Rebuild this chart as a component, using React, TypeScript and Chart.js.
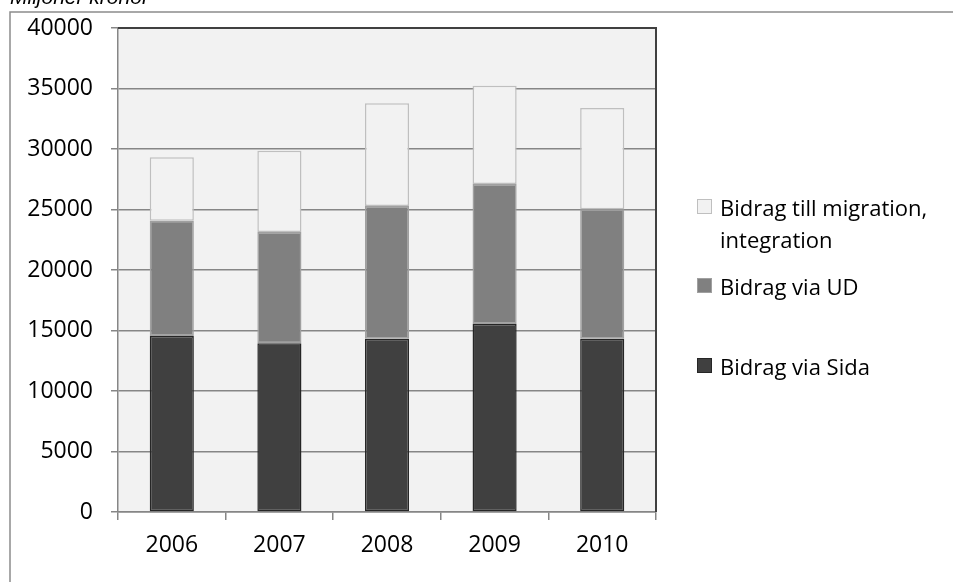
import React, { useEffect, useRef } from "react";
import { Chart, registerables } from "chart.js";

Chart.register(...registerables);

const categories = ["2006", "2007", "2008", "2009", "2010"];
const sida = [14550, 13940, 14320, 15540, 14320];
const ud = [9520, 9200, 10970, 11570, 10700];
const migration = [5240, 6720, 8490, 8120, 8370];
const yTicks = [0, 5000, 10000, 15000, 20000, 25000, 30000, 35000, 40000];

const labelSida = "Bidrag via Sida";
const labelUd = "Bidrag via UD";
const labelMigration = ["Bidrag till migration,", "integration"];
const titleText = "Miljoner kronor";

const FONT = "'Open Sans', sans-serif";

const frame = {
  id: "frame",
  beforeDraw(chart: any) {
    const { ctx, chartArea } = chart;
    ctx.save();
    ctx.fillStyle = "#f2f2f2";
    ctx.fillRect(chartArea.left, chartArea.top, chartArea.right - chartArea.left, chartArea.bottom - chartArea.top);
    ctx.strokeStyle = "#8c8c8c";
    ctx.lineWidth = 1.5;
    ctx.beginPath();
    ctx.moveTo(10, 600);
    ctx.lineTo(10, 12);
    ctx.lineTo(960, 12);
    ctx.stroke();
    ctx.restore();
  },
  afterDatasetsDraw(chart: any) {
    const { ctx, chartArea } = chart;
    ctx.save();
    ctx.strokeStyle = "#404040";
    ctx.lineWidth = 2;
    ctx.beginPath();
    ctx.moveTo(chartArea.left, chartArea.top);
    ctx.lineTo(chartArea.right, chartArea.top);
    ctx.lineTo(chartArea.right, chartArea.bottom);
    ctx.stroke();
    ctx.restore();
  },
};

const legendItems = [
  { text: labelMigration, fill: "#f2f2f2", border: "#bfbfbf", top: 191 },
  { text: [labelUd], fill: "#808080", border: "#a0a0a0", top: 270 },
  { text: [labelSida], fill: "#404040", border: "#262626", top: 350 },
];

export default function App() {
  const ref = useRef<HTMLCanvasElement>(null);

  useEffect(() => {
    if (!ref.current) return;
    const chart = new Chart(ref.current, {
      type: "bar",
      data: {
        labels: categories,
        datasets: [
          { label: labelSida, data: sida, backgroundColor: "#404040", borderColor: "#262626", borderWidth: 1.5, borderSkipped: false },
          { label: labelUd, data: ud, backgroundColor: "#808080", borderColor: "#a0a0a0", borderWidth: 1.5, borderSkipped: false },
          { label: labelMigration.join(" "), data: migration, backgroundColor: "#f2f2f2", borderColor: "#bfbfbf", borderWidth: 1.5, borderSkipped: false },
        ],
      },
      options: {
        animation: false,
        responsive: false,
        devicePixelRatio: 1,
        layout: { padding: { left: 0, right: 297, top: 28, bottom: 0 } },
        datasets: { bar: { barPercentage: 0.41, categoryPercentage: 1 } },
        plugins: { legend: { display: false }, tooltip: { enabled: false }, title: { display: false } },
        scales: {
          x: {
            stacked: true,
            offset: true,
            grid: { display: true, drawOnChartArea: false, drawTicks: true, tickLength: 8, color: "#868686", lineWidth: 1.5, offset: true },
            border: { display: true, color: "#868686", width: 1.5 },
            ticks: { color: "#000", font: { family: FONT, size: 23 }, padding: 12, maxRotation: 0 },
            afterFit(scale: any) { scale.height = 70; },
          },
          y: {
            stacked: true,
            min: 0,
            max: 40000,
            afterBuildTicks(scale: any) { scale.ticks = yTicks.map((v) => ({ value: v })); },
            grid: { color: "#868686", lineWidth: 1.5, tickLength: 7, drawTicks: true },
            border: { display: true, color: "#868686", width: 1.5 },
            ticks: { color: "#000", font: { family: FONT, size: 23 }, padding: 18, callback: (v: any) => String(v) },
            afterFit(scale: any) {
              scale.width = 118;
              scale.paddingTop = 10;
              scale.paddingBottom = 10;
            },
          },
        },
      },
      plugins: [frame],
    });
    return () => chart.destroy();
  }, []);

  return (
    <div style={{ position: "absolute", left: 0, top: 0, width: 953, height: 582, overflow: "hidden", background: "#fff" }}>
      <canvas ref={ref} width={953} height={582} style={{ display: "block" }} />
      <div style={{ position: "absolute", left: 10, top: -15, fontFamily: "'Liberation Sans', Arial, sans-serif", fontStyle: "italic", fontSize: 21, lineHeight: "24px", color: "#000", whiteSpace: "nowrap" }}>
        {titleText}
      </div>
      {legendItems.map((it, i) => (
        <div key={i} style={{ position: "absolute", left: 697, top: it.top, fontFamily: FONT, fontSize: 22, lineHeight: "32px", color: "#000" }}>
          <div style={{ position: "absolute", left: 0, top: 8, width: 13, height: 13, background: it.fill, border: `1px solid ${it.border}` }} />
          <div style={{ marginLeft: 23, whiteSpace: "nowrap" }}>
            {it.text.map((t, j) => (
              <div key={j}>{t}</div>
            ))}
          </div>
        </div>
      ))}
    </div>
  );
}
